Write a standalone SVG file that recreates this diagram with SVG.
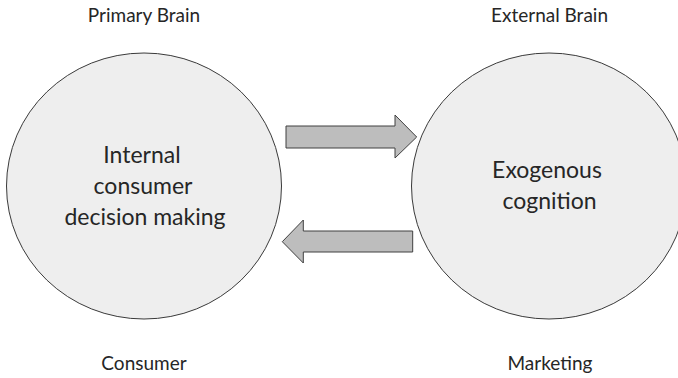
<svg xmlns="http://www.w3.org/2000/svg" width="678" height="378" viewBox="0 0 678 378">
  <style>
    .circ { fill: #eeeeee; stroke: #3a3a3a; stroke-width: 1; }
    .arrow { fill: #bdbdbd; stroke: #404040; stroke-width: 1; stroke-linejoin: miter; }
    text { font-family: Lato, "Open Sans", "Liberation Sans", sans-serif; fill: #262626; text-anchor: middle; }
    .lbl { font-size: 19px; }
    .in { font-size: 23px; }
  </style>
  <rect width="678" height="378" fill="#ffffff"/>
  <g id="connectors">
    <polygon class="arrow" points="286,126 395,126 395,115 416.7,137 395,158 395,148 286,148"/>
    <polygon class="arrow" points="412.7,231 303.3,231 303.3,220 282.3,241.7 303.3,263 303.3,252 412.7,252"/>
  </g>
  <g id="node-internal">
    <ellipse class="circ" cx="144" cy="186" rx="137.5" ry="133"/>
    <text class="in" x="142" y="163">Internal</text>
    <text class="in" x="143" y="194">consumer</text>
    <text class="in" x="145" y="225">decision making</text>
  </g>
  <g id="node-exogenous">
    <ellipse class="circ" cx="549" cy="186" rx="137.5" ry="133"/>
    <text class="in" x="547" y="178">Exogenous</text>
    <text class="in" x="549.5" y="209">cognition</text>
  </g>
  <g id="labels">
    <text class="lbl" x="144" y="22">Primary Brain</text>
    <text class="lbl" x="549.5" y="22">External Brain</text>
    <text class="lbl" x="144" y="370">Consumer</text>
    <text class="lbl" x="550" y="370">Marketing</text>
  </g>
</svg>
